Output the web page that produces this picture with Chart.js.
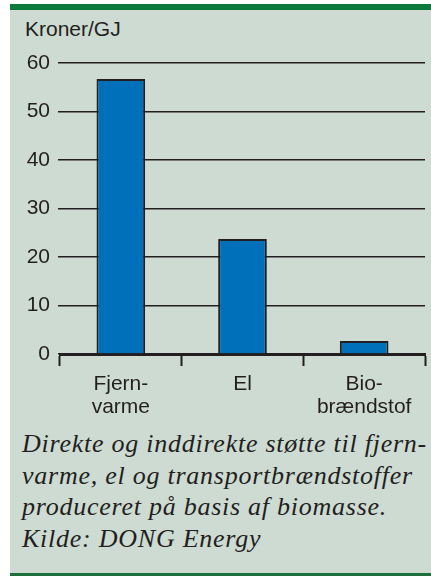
<!DOCTYPE html>
<html>
<head>
<meta charset="utf-8">
<script src="https://cdn.jsdelivr.net/npm/chart.js@4"></script>
<style>
  html, body { margin: 0; padding: 0; background: #ffffff; }
  body { width: 431px; height: 576px; position: relative; overflow: hidden; }
  #panel {
    position: absolute; left: 10px; top: 4px; width: 421px; height: 572px;
    background: #cedbd2; border-top: 6px solid #0b7a3b; border-bottom: 3px solid #1f6f3c;
    box-sizing: border-box;
  }
  #unit {
    position: absolute; left: 25px; top: 17px;
    font: 21px "Liberation Sans", Arial, sans-serif; color: #231f20;
  }
  #chart-wrap { position: absolute; left: 10px; top: 40px; width: 421px; height: 380px; }
  #caption {
    position: absolute; left: 22px; top: 428px; width: 409px; white-space: nowrap;
    font: italic 26px/31.5px "Liberation Serif", "Times New Roman", serif;
    letter-spacing: 0.75px; color: #231f20;
  }
</style>
</head>
<body>
<div id="panel"></div>
<div id="unit">Kroner/GJ</div>
<div id="chart-wrap"><canvas id="support-chart"></canvas></div>
<div id="caption">Direkte og inddirekte støtte til fjern-<br>varme, el og transportbrændstoffer<br>produceret på basis af biomasse.<br>Kilde: DONG Energy</div>
<script>
const categories = [["Fjern-", "varme"], ["El"], ["Bio-", "brændstof"]];
const supportValues = [56.7, 23.7, 2.7];
const yTicks = [0, 10, 20, 30, 40, 50, 60];

const ink = "#231f20";
const tickFont = { family: "'Liberation Sans', Arial, sans-serif", size: 21, lineHeight: 1.12 };

function initSupportChart() {
  const canvas = document.getElementById("support-chart");
  if (!canvas || typeof Chart === "undefined") return;

  new Chart(canvas.getContext("2d"), {
    type: "bar",
    data: {
      labels: categories,
      datasets: [
        {
          label: "Kroner/GJ",
          data: supportValues,
          backgroundColor: "#0070bb",
          borderColor: ink,
          borderWidth: 2,
          borderSkipped: "bottom",
          barPercentage: 0.4,
          categoryPercentage: 1,
        },
      ],
    },
    options: {
      responsive: true,
      maintainAspectRatio: false,
      animation: false,
      layout: { padding: { top: 23, right: 6, left: 0, bottom: 0 } },
      plugins: {
        legend: { display: false },
        tooltip: { enabled: false },
      },
      scales: {
        x: {
          grid: {
            offset: true,
            drawOnChartArea: false,
            drawTicks: true,
            tickLength: 12,
            tickWidth: 2,
            tickColor: ink,
          },
          border: { display: true, color: ink, width: 3 },
          ticks: { color: ink, font: tickFont, padding: 6, maxRotation: 0 },
          afterFit: (scale) => { scale.height = 66; },
        },
        y: {
          min: 0,
          max: 60,
          afterBuildTicks: (scale) => { scale.ticks = yTicks.map((v) => ({ value: v })); },
          grid: { color: ink, lineWidth: 1.6, tickLength: 2, drawTicks: true },
          border: { display: false },
          ticks: { color: ink, font: tickFont, padding: 8 },
          afterFit: (scale) => { scale.width = 50; },
        },
      },
    },
  });
}

initSupportChart();
</script>
</body>
</html>
